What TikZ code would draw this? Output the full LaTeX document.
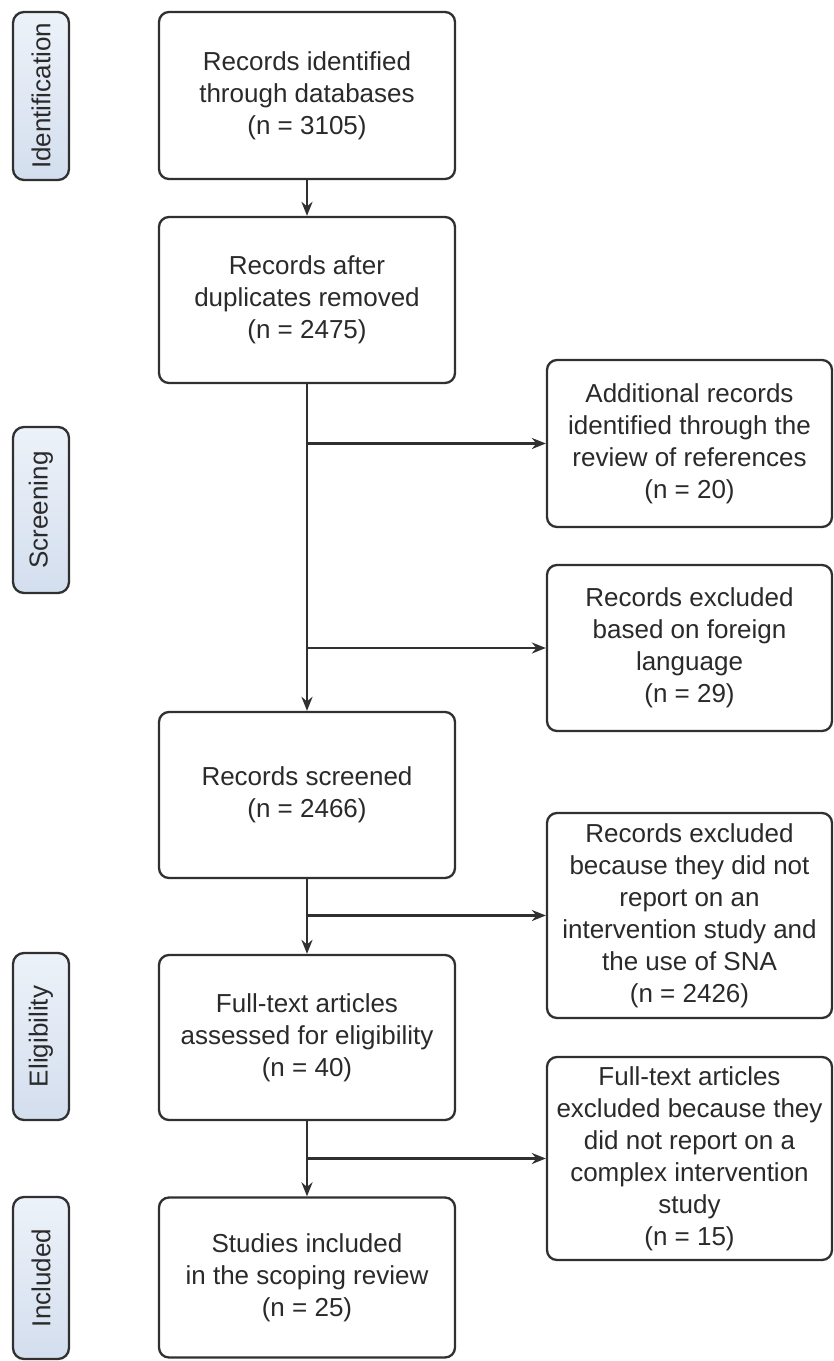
\documentclass[tikz,border=0pt]{standalone}
\usepackage{fontspec}
\setmainfont{Liberation Sans}
\usetikzlibrary{arrows.meta}
\definecolor{ln}{HTML}{303030}
\definecolor{tx}{HTML}{2A2A2A}
\definecolor{lbA}{HTML}{D3DEEE}
\definecolor{lbB}{HTML}{EDF2F9}
\begin{document}
\begin{tikzpicture}[x=1pt,y=-1pt,
  box/.style={draw=ln, line width=2.3pt, rounded corners=10pt, align=center,
    text=tx, font=\fontsize{26}{32}\selectfont, inner sep=0pt},
  mainbox/.style={box, minimum width=296pt},
  sidebox/.style={box, minimum width=285pt},
  phase/.style={draw=ln, line width=2.3pt, rounded corners=11pt, rotate=90,
    left color=lbB, right color=lbA, shading angle=0, text=tx,
    font=\fontsize{26}{32}\selectfont, inner sep=0pt, minimum height=56pt},
  flow/.style={draw=ln, line width=2.3pt, -{Stealth[length=14pt,width=11pt]}}]
\useasboundingbox (0,0) rectangle (834,1361);
\fill[white] (0,0) rectangle (834,1361);

% phase labels
\node[phase, minimum width=168pt] (L1) at (41,96) {Identification};
\node[phase, minimum width=166pt] (L2) at (41,510) {Screening};
\node[phase, minimum width=167pt] (L3) at (41,1036.5) {Eligibility};
\node[phase, minimum width=162pt] (L4) at (41,1278) {Included};

% main column
\node[mainbox, minimum height=167pt] (b1) at (307,95.5) {Records identified\\through databases\\(n = 3105)};
\node[mainbox, minimum height=166pt] (b2) at (307,300) {Records after\\duplicates removed\\(n = 2475)};
\node[mainbox, minimum height=166pt] (b3) at (307,795) {Records screened\\(n = 2466)};
\node[mainbox, minimum height=165pt] (b4) at (307,1037.5) {Full-text articles\\assessed for eligibility\\(n = 40)};
\node[mainbox, minimum height=160pt] (b5) at (307,1277.5) {Studies included\\in the scoping review\\(n = 25)};

% side column
\node[sidebox, minimum height=167pt] (r1) at (689.5,443.5) {Additional records\\identified through the\\review of references\\(n = 20)};
\node[sidebox, minimum height=166pt] (r2) at (689.5,648) {Records excluded\\based on foreign\\language\\(n = 29)};
\node[sidebox, minimum height=205pt] (r3) at (689.5,915.5) {Records excluded\\because they did not\\report on an\\intervention study and\\the use of SNA\\(n = 2426)};
\node[sidebox, minimum height=203pt] (r4) at (689.5,1158.5) {Full-text articles\\excluded because they\\did not report on a\\complex intervention\\study\\(n = 15)};

% branch points
\coordinate (j1) at (b2.south |- r1.west);
\coordinate (j2) at (b2.south |- r2.west);
\coordinate (j3) at (b3.south |- r3.west);
\coordinate (j4) at (b4.south |- r4.west);

% connectors
\draw[flow] (b1.south) -- (b2.north);
\draw[flow] (b2.south) -- (b3.north);
\draw[flow] (b3.south) -- (b4.north);
\draw[flow] (b4.south) -- (b5.north);
\draw[flow] (j1) -- (r1.west);
\draw[flow] (j2) -- (r2.west);
\draw[flow] (j3) -- (r3.west);
\draw[flow] (j4) -- (r4.west);
\end{tikzpicture}
\end{document}
